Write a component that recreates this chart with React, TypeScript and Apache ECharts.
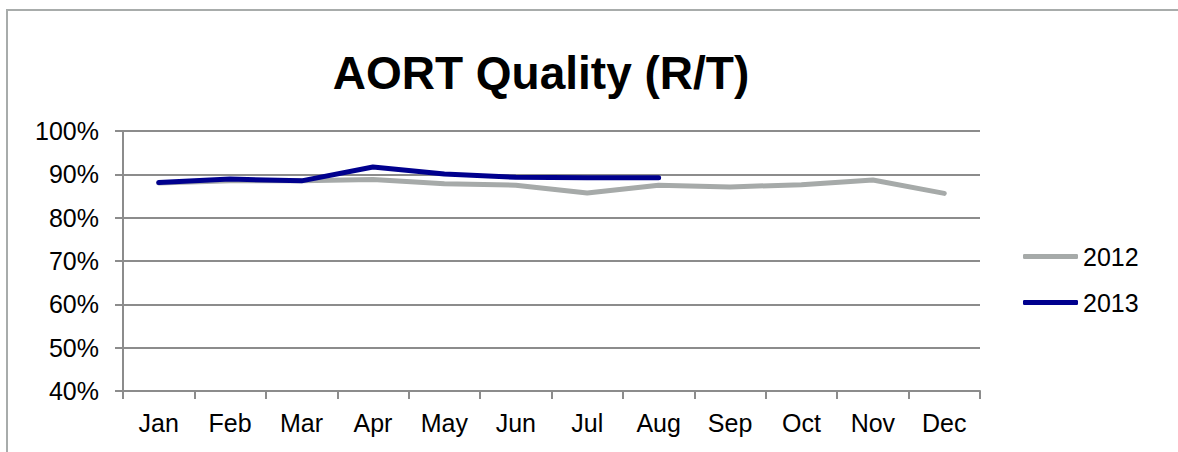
import React, { useEffect, useRef } from "react";
import * as echarts from "echarts";

const categories = ["Jan", "Feb", "Mar", "Apr", "May", "Jun", "Jul", "Aug", "Sep", "Oct", "Nov", "Dec"];
const series2012 = [88.0, 88.5, 88.5, 88.8, 87.8, 87.5, 85.7, 87.5, 87.1, 87.6, 88.7, 85.6];
const series2013 = [88.1, 88.9, 88.5, 91.7, 90.1, 89.3, 89.2, 89.2];
const seriesNames = ["2012", "2013"];
const titleText = "AORT Quality (R/T)";

const FONT = "'Liberation Sans', Arial, sans-serif";
const GRID_COLOR = "#8c8c8c";

export default function App() {
  const ref = useRef<HTMLDivElement>(null);
  useEffect(() => {
    if (!ref.current) return;
    const chart = echarts.init(ref.current, undefined, { renderer: "svg" });
    chart.setOption({
      animation: false,
      backgroundColor: "#ffffff",
      textStyle: { fontFamily: FONT },
      graphic: [
        {
          type: "rect",
          shape: { x: 7, y: 10, width: 1300, height: 600 },
          style: { fill: "none", stroke: "#a8acab", lineWidth: 2 },
          silent: true,
          z: -1,
        },
        {
          type: "text",
          x: 541,
          y: 73,
          style: {
            text: titleText,
            fontFamily: FONT,
            fontSize: 46,
            fontWeight: "bold",
            fill: "#000000",
            align: "center",
            verticalAlign: "middle",
          },
        },
      ],
      legend: {
        orient: "vertical",
        left: 1018,
        top: 239,
        itemWidth: 55,
        itemHeight: 5,
        itemGap: 21,
        icon: "roundRect",
        data: seriesNames,
        textStyle: { fontFamily: FONT, fontSize: 25, color: "#000", lineHeight: 25 },
      },
      grid: { left: 123, right: 198, top: 131, bottom: 61, containLabel: false },
      xAxis: {
        type: "category",
        data: categories,
        boundaryGap: true,
        axisLine: { lineStyle: { color: GRID_COLOR, width: 2 } },
        axisTick: { show: true, length: 8, lineStyle: { color: GRID_COLOR, width: 2 } },
        axisLabel: { color: "#000", fontSize: 25, fontFamily: FONT, margin: 19 },
        splitLine: { show: false },
      },
      yAxis: {
        type: "value",
        min: 40,
        max: 100,
        interval: 10,
        axisLine: { show: true, lineStyle: { color: GRID_COLOR, width: 2 } },
        axisTick: { show: true, length: 8, lineStyle: { color: GRID_COLOR, width: 2 } },
        axisLabel: { color: "#000", fontSize: 25, fontFamily: FONT, margin: 24, formatter: "{value}%" },
        splitLine: { show: true, lineStyle: { color: GRID_COLOR, width: 2 } },
      },
      series: [
        {
          name: seriesNames[0],
          type: "line",
          data: series2012,
          symbol: "none",
          itemStyle: { color: "#a6aaa9" },
          lineStyle: { color: "#a6aaa9", width: 5, cap: "round", join: "round" },
          z: 2,
        },
        {
          name: seriesNames[1],
          type: "line",
          data: series2013,
          symbol: "none",
          itemStyle: { color: "#00008e" },
          lineStyle: { color: "#00008e", width: 5, cap: "round", join: "round" },
          z: 3,
        },
      ],
    });
    return () => chart.dispose();
  }, []);
  return <div ref={ref} style={{ position: "absolute", left: 0, top: 0, width: 1178, height: 452 }} />;
}
